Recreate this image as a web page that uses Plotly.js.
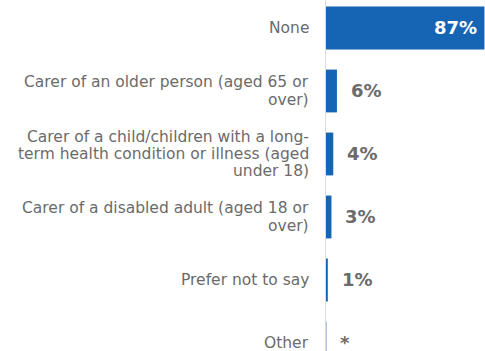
<!DOCTYPE html>
<html><head><meta charset="utf-8">
<script src="https://cdn.plot.ly/plotly-3.0.1.min.js"></script>
<style>html,body{margin:0;padding:0;background:#fff;}#chart{width:485px;height:351px;}</style>
</head><body><div id="chart"></div>
<script>
const categories = [
  "None",
  "Carer of an older person (aged 65 or<br>over)",
  "Carer of a child/children with a long-<br>term health condition or illness (aged<br>under 18)",
  "Carer of a disabled adult (aged 18 or<br>over)",
  "Prefer not to say",
  "Other"
];
const values = [87, 6, 4, 3, 1, 0.2];
const valueLabels = ["87%", "6%", "4%", "3%", "1%", "*"];
const barColor = "#1565b4";
const labelGrey = "#6b6b6b";
const FONT = "DejaVu Sans, Verdana, sans-serif";

const trace = {
  type: "bar", orientation: "h",
  x: values, y: categories,
  marker: {color: barColor},
  width: 0.68,
  hoverinfo: "none"
};

const annotations = values.map((v, i) => {
  const inside = v > 50;
  return {
    x: v, y: categories[i], xref: "x", yref: "y",
    text: "<b>" + valueLabels[i] + "</b>",
    showarrow: false,
    xanchor: inside ? "right" : "left",
    xshift: inside ? -5 : 12,
    yshift: i === 5 ? 1 : 0,
    font: {family: FONT, size: 18, color: inside ? "#ffffff" : labelGrey}
  };
});

// category labels, one annotation per line for tighter line spacing
const lineGap = 17.3;
categories.forEach((c) => {
  const lines = c.split("<br>");
  lines.forEach((ln, j) => {
    annotations.push({
      x: 0, xref: "paper", y: c, yref: "y",
      text: ln, showarrow: false,
      xanchor: "right", yanchor: "middle",
      xshift: -15,
      yshift: ((lines.length - 1) / 2 - j) * lineGap,
      font: {family: FONT, size: 15.5, color: labelGrey}
    });
  });
});

Plotly.newPlot("chart", [trace], {
  width: 485, height: 351,
  margin: {l: 326, r: 0, t: 0, b: 0},
  paper_bgcolor: "#fff", plot_bgcolor: "#fff",
  showlegend: false,
  xaxis: {range: [0, 87.3], visible: false, fixedrange: true},
  yaxis: {
    type: "category",
    range: [5.127, -0.444],
    showline: true, linecolor: "#dcdcdc", linewidth: 1,
    showgrid: false, zeroline: false,
    showticklabels: false, ticks: ""
  },
  annotations: annotations
}, {staticPlot: true});
</script></body></html>
